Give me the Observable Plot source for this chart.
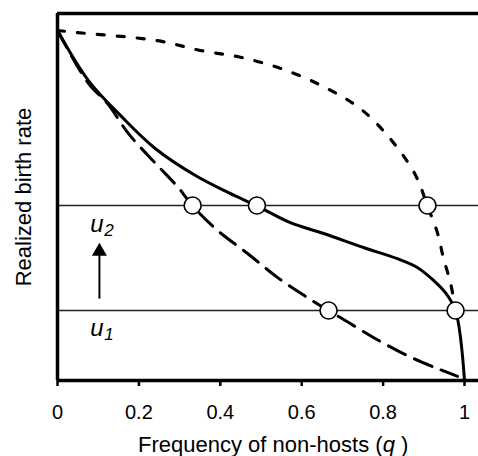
<!DOCTYPE html>
<html>
<head>
<meta charset="utf-8">
<script src="https://cdn.jsdelivr.net/npm/d3@7"></script>
<script src="https://cdn.jsdelivr.net/npm/@observablehq/plot@0.6"></script>
<style>
  html, body { margin: 0; padding: 0; background: #fff; }
  #chart svg { display: block; font-family: "Liberation Sans", Arial, sans-serif; }
</style>
</head>
<body>
<div id="chart"></div>
<script>
// ---- data ----
const xTicks = [0, 0.2, 0.4, 0.6, 0.8, 1];
const levels = [0.2, 0.5];           // u1, u2
const levelLabels = ["1", "2"];

const solidX  = [0, 0.076, 0.16, 0.24, 0.34, 0.42, 0.49, 0.572, 0.654, 0.752, 0.835, 0.884, 0.924, 0.953, 0.978, 1.0];
const solidY  = [1, 0.857, 0.751, 0.663, 0.585, 0.537, 0.499, 0.451, 0.42, 0.38, 0.348, 0.323, 0.286, 0.251, 0.199, 0];

const dashedX = [0, 0.076, 0.123, 0.174, 0.241, 0.297, 0.332, 0.393, 0.467, 0.541, 0.614, 0.666, 0.695, 0.776, 0.86, 0.934, 0.983];
const dashedY = [1, 0.849, 0.791, 0.706, 0.62, 0.551, 0.499, 0.429, 0.363, 0.294, 0.237, 0.199, 0.18, 0.123, 0.071, 0.034, 0.012];

const dottedX = [0, 0.049, 0.246, 0.351, 0.452, 0.555, 0.658, 0.747, 0.821, 0.88, 0.909, 0.934, 0.948, 0.966, 0.978];
const dottedY = [1, 0.994, 0.971, 0.943, 0.923, 0.889, 0.837, 0.774, 0.686, 0.586, 0.499, 0.42, 0.351, 0.277, 0.2];

const circleX = [0.332, 0.49, 0.909, 0.666, 0.978];
const circleY = [0.5, 0.5, 0.5, 0.2, 0.2];

const labelX = 0.09;                 // u labels
const arrowX = 0.103;
const arrowFrom = 0.234, arrowTo = 0.369;
const xMax = 1.0344, yMax = 1.0486;

// ---- build tables ----
const toPts = (xs, ys) => xs.map((x, i) => ({x, y: ys[i]}));
const solid = toPts(solidX, solidY);
const dashed = toPts(dashedX, dashedY);
const dotted = toPts(dottedX, dottedY);
const circles = toPts(circleX, circleY);
const uLabels = levels.map((v, i) => ({x: labelX, y: v, sub: levelLabels[i]}));
const uBelow = [uLabels[0]];
const uAbove = [uLabels[1]];

const uMarks = (data, dyMain, dySub) => [
  Plot.text(data, {x: "x", y: "y", text: () => "u", fontSize: 24, fontStyle: "italic",
    textAnchor: "start", dy: dyMain, dx: -4}),
  Plot.text(data, {x: "x", y: "y", text: "sub", fontSize: 17, fontStyle: "italic",
    textAnchor: "start", dy: dySub, dx: 10})
];

const chart = Plot.plot({
  width: 478,
  height: 456,
  marginLeft: 57,
  marginRight: 0,
  marginTop: 13,
  marginBottom: 76,
  style: {fontFamily: "'Liberation Sans', Arial, sans-serif", color: "#000", background: "#fff"},
  x: {domain: [0, xMax]},
  y: {domain: [0, yMax], axis: null},
  marks: [
    Plot.axisX({ticks: xTicks, tickSize: 6, tickPadding: 18, fontSize: 20, label: null,
                strokeWidth: 2.5, tickFormat: d => String(d)}),
    Plot.ruleY(levels, {stroke: "#222", strokeWidth: 1.5}),
    Plot.ruleY([yMax], {stroke: "#000", strokeWidth: 3.5}),
    Plot.ruleY([0], {stroke: "#000", strokeWidth: 3.5}),
    Plot.ruleX([0], {stroke: "#000", strokeWidth: 3.5}),
    Plot.line(dotted, {x: "x", y: "y", curve: "catmull-rom", stroke: "#000", strokeWidth: 3.2, strokeDasharray: "7,13"}),
    Plot.line(dashed, {x: "x", y: "y", curve: "catmull-rom", stroke: "#000", strokeWidth: 3, strokeDasharray: "19,10"}),
    Plot.line(solid, {x: "x", y: "y", curve: "catmull-rom", stroke: "#000", strokeWidth: 3}),
    Plot.dot(circles, {x: "x", y: "y", r: 8.5, fill: "#fff", stroke: "#000", strokeWidth: 1.6}),
    // arrow u1 -> u2
    Plot.link([{x1: arrowX, y1: arrowFrom, x2: arrowX, y2: arrowTo}], {x1: "x1", y1: "y1", x2: "x2", y2: "y2", stroke: "#000", strokeWidth: 2}),
    Plot.dot([{x: arrowX, y: arrowTo}], {x: "x", y: "y", symbol: "triangle", r: 5.6, fill: "#000", stroke: "none"}),
    // u labels
    ...uMarks(uAbove, 19, 25),
    ...uMarks(uBelow, 18, 24),
    // axis titles
    Plot.text(["Realized birth rate"], {frameAnchor: "left", dx: -34, rotate: -90, fontSize: 22, textAnchor: "middle"}),
    Plot.text(["Frequency of non-hosts (q )"], {frameAnchor: "bottom", x: () => 0.53, dy: 71, fontSize: 22, textAnchor: "middle"})
  ]
});

document.getElementById("chart").appendChild(chart);

// italic q in the x title
d3.select(chart).selectAll("text").filter(function () {
  return this.textContent === "Frequency of non-hosts (q )";
}).each(function () {
  const t = d3.select(this);
  t.text(null);
  t.append("tspan").text("Frequency of non-hosts (");
  t.append("tspan").attr("font-style", "italic").text("q");
  t.append("tspan").text(" )");
});
</script>
</body>
</html>
